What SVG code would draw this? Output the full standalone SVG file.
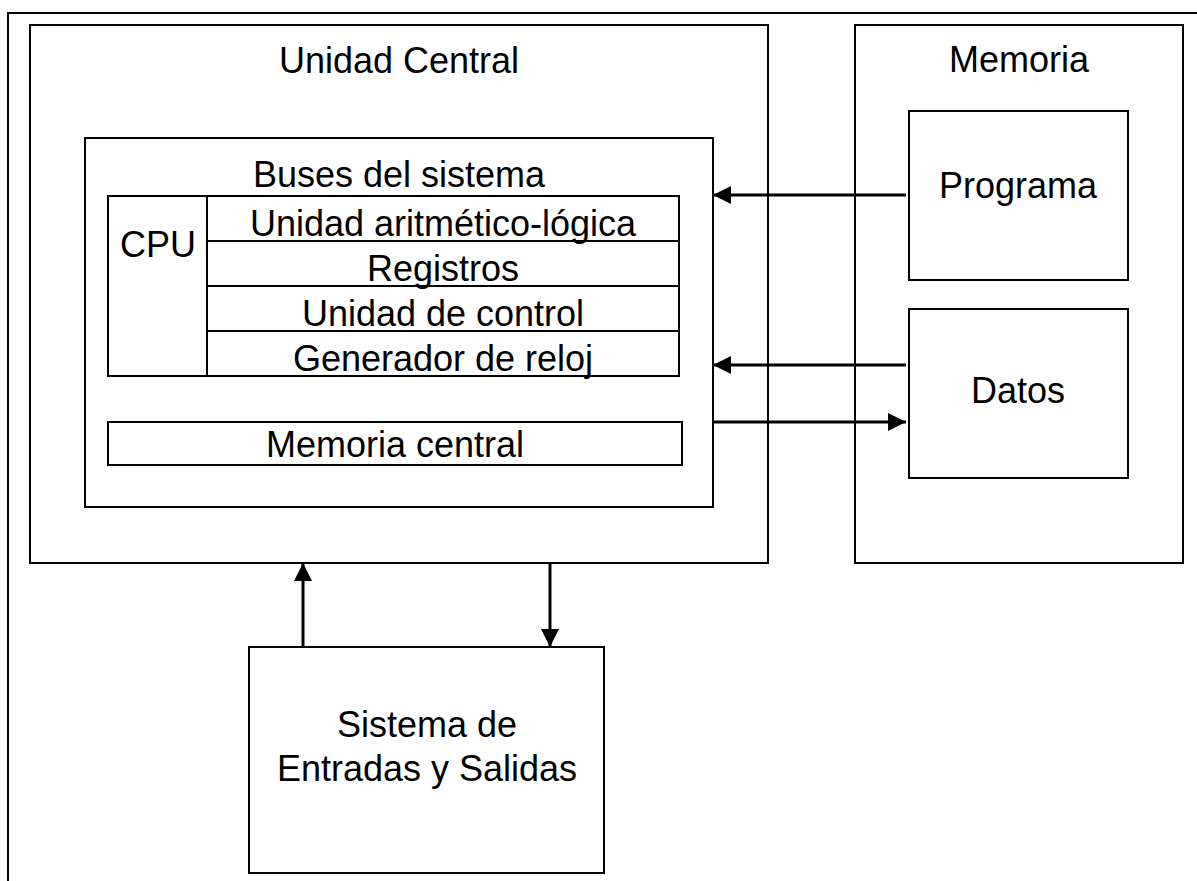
<svg xmlns="http://www.w3.org/2000/svg" width="1197" height="881" viewBox="0 0 1197 881">
  <style>
    .box { fill: none; stroke: #000; stroke-width: 2; }
    .lbl { font-family: "Liberation Sans", Arial, sans-serif; font-size: 36px; fill: #000; text-anchor: middle; }
    .wire { stroke: #000; stroke-width: 3; fill: none; }
  </style>
  <defs>
    <marker id="arrow" viewBox="0 0 18 18" refX="18" refY="9" markerWidth="18" markerHeight="18" markerUnits="userSpaceOnUse" orient="auto">
      <path d="M0,0 L18,9 L0,18 Z" fill="#000"/>
    </marker>
  </defs>
  <rect width="1197" height="881" fill="#fff"/>

  <!-- page frame -->
  <path class="box" d="M8,881 L8,13 L1197,13"/>

  <g id="unidad-central">
    <rect class="box" x="30" y="25" width="738" height="538"/>
    <text class="lbl" x="399" y="73">Unidad Central</text>
  </g>

  <g id="buses">
    <rect class="box" x="85" y="138" width="628" height="369"/>
    <text class="lbl" x="399" y="187">Buses del sistema</text>
  </g>

  <g id="cpu">
    <rect class="box" x="108" y="196" width="571" height="180"/>
    <line class="box" x1="207" y1="196" x2="207" y2="376"/>
    <line class="box" x1="207" y1="241" x2="679" y2="241"/>
    <line class="box" x1="207" y1="286" x2="679" y2="286"/>
    <line class="box" x1="207" y1="331" x2="679" y2="331"/>
    <text class="lbl" x="158" y="257">CPU</text>
    <text class="lbl" x="443" y="236">Unidad aritmético-lógica</text>
    <text class="lbl" x="443" y="281">Registros</text>
    <text class="lbl" x="443" y="326">Unidad de control</text>
    <text class="lbl" x="443" y="371">Generador de reloj</text>
  </g>

  <g id="memoria-central">
    <rect class="box" x="108" y="422" width="574" height="43"/>
    <text class="lbl" x="395" y="457">Memoria central</text>
  </g>

  <g id="memoria">
    <rect class="box" x="855" y="25" width="328" height="538"/>
    <text class="lbl" x="1019" y="72">Memoria</text>
  </g>

  <g id="programa">
    <rect class="box" x="909" y="111" width="219" height="169"/>
    <text class="lbl" x="1018" y="198">Programa</text>
  </g>

  <g id="datos">
    <rect class="box" x="909" y="309" width="219" height="169"/>
    <text class="lbl" x="1018" y="403">Datos</text>
  </g>

  <g id="entradas-salidas">
    <rect class="box" x="249" y="647" width="355" height="226"/>
    <text class="lbl" x="427" y="737">Sistema de</text>
    <text class="lbl" x="427" y="781">Entradas y Salidas</text>
  </g>

  <g id="connectors">
    <line class="wire" x1="906" y1="195" x2="713" y2="195" marker-end="url(#arrow)"/>
    <line class="wire" x1="906" y1="365" x2="713" y2="365" marker-end="url(#arrow)"/>
    <line class="wire" x1="713" y1="422" x2="906" y2="422" marker-end="url(#arrow)"/>
    <line class="wire" x1="303" y1="648" x2="303" y2="563" marker-end="url(#arrow)"/>
    <line class="wire" x1="550" y1="563" x2="550" y2="647" marker-end="url(#arrow)"/>
  </g>
</svg>
